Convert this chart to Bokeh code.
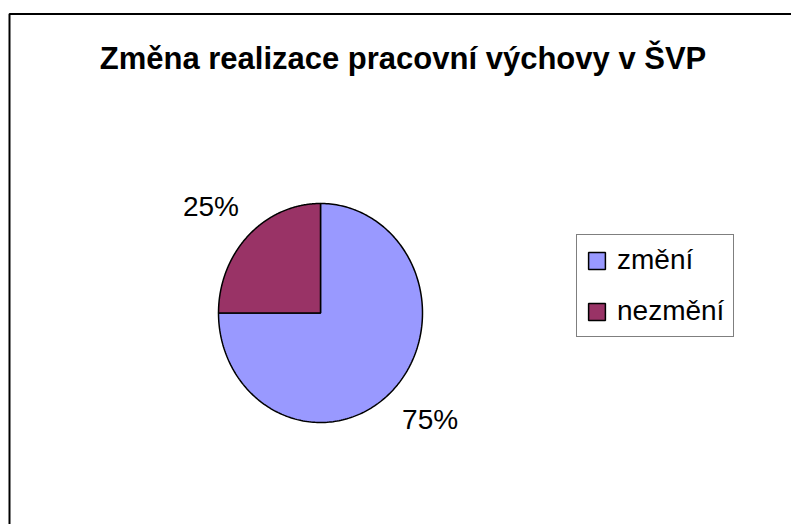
import numpy as np
from bokeh.plotting import figure
from bokeh.models import Range1d, Legend, LegendItem, Label, ColumnDataSource
from bokeh.core.properties import value
from bokeh.embed import file_html
from bokeh.resources import INLINE

title_text = "Změna realizace pracovní výchovy v ŠVP"
categories = ["změní", "nezmění"]
values = [75, 25]
colors = ["#9999FF", "#993366"]

W, H = 791, 524
FONT = "Liberation Sans"

p = figure(width=W, height=H, x_range=Range1d(0, W), y_range=Range1d(H, 0),
           output_backend="svg", toolbar_location=None, min_border=0)
p.axis.visible = False
p.grid.visible = False
p.outline_line_color = None
p.background_fill_color = "white"
p.border_fill_color = "white"

# outer chart frame (only left and top edges fall inside the picture)
p.line([9, 9, W + 20], [H + 20, 13.5, 13.5], line_color="black", line_width=2)

# pie (slightly elliptical, as in the reference)
cx, cy, rx, ry = 320, 312.5, 102, 109.5
lrx, lry = 155, 150
total = float(sum(values))
xs, ys, lx, ly, pct = [], [], [], [], []
cum = 0.0
for v in values:
    a0 = np.deg2rad(90 - cum / total * 360)
    a1 = np.deg2rad(90 - (cum + v) / total * 360)
    t = np.linspace(a0, a1, 240)
    xs.append([cx] + list(cx + rx * np.cos(t)) + [cx])
    ys.append([cy] + list(cy - ry * np.sin(t)) + [cy])
    mid = (a0 + a1) / 2
    lx.append(cx + lrx * np.cos(mid))
    ly.append(cy - lry * np.sin(mid))
    pct.append(f"{round(v / total * 100)}%")
    cum += v

src = ColumnDataSource(dict(xs=xs, ys=ys, color=colors, cat=categories))
r = p.patches("xs", "ys", source=src, fill_color="color", line_color="black", line_width=1.5)

lsrc = ColumnDataSource(dict(x=lx, y=ly, text=pct))
p.text("x", "y", text="text", source=lsrc, text_font=value(FONT), text_font_size="28px",
       text_align="center", text_baseline="middle", text_color="black")

title = Label(x=402.5, y=58, text=title_text, text_font=FONT, text_font_size="31px",
              text_font_style="bold", text_align="center", text_baseline="middle",
              text_color="black")
p.add_layout(title)

items = [LegendItem(label=c, renderers=[r], index=i) for i, c in enumerate(categories)]
legend = Legend(items=items, location=(576, 187), orientation="vertical",
                label_text_font=FONT, label_text_font_size="28px", label_text_color="black",
                glyph_width=21, glyph_height=21, label_standoff=10,
                padding=9, spacing=19, margin=0,
                border_line_color="black", border_line_width=1,
                background_fill_color="white", background_fill_alpha=1)
p.add_layout(legend)

open("out.html", "w").write(file_html(p, INLINE))
